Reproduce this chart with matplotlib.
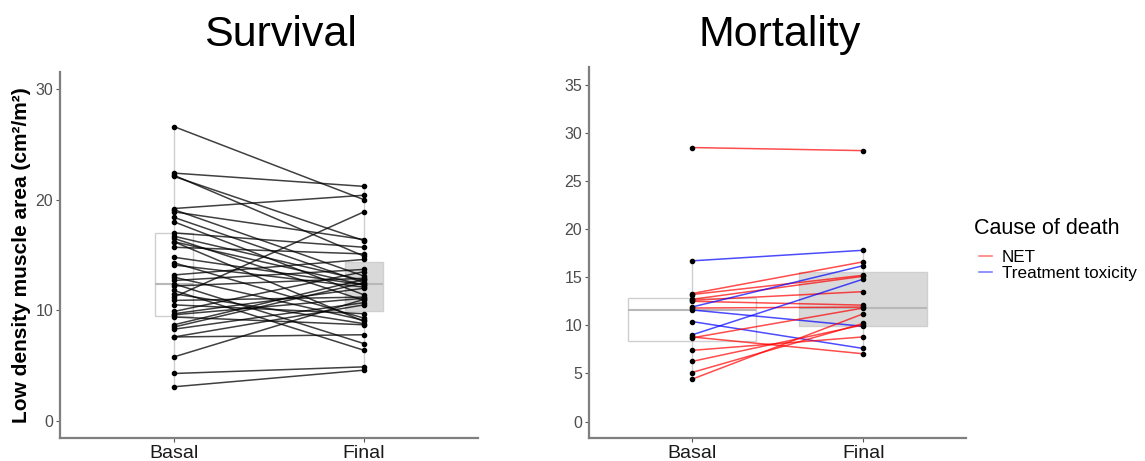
import matplotlib
matplotlib.use("Agg")
import matplotlib.pyplot as plt
from matplotlib.lines import Line2D

plt.rcParams["font.family"] = ["Liberation Sans", "DejaVu Sans"]

# ---- data ----
time_labels = ["Basal", "Final"]

# Survival group: one pair per patient (basal -> final)
surv_basal = [26.6, 22.4, 22.2, 22.1, 19.2, 19.1, 18.9, 18.4, 18.0, 17.0,
              16.7, 16.5, 16.2, 15.7, 14.8, 14.3, 14.1, 13.2, 12.7, 12.4,
              12.2, 11.8, 11.5, 11.2, 10.9, 10.5, 9.9, 9.7, 9.6, 9.4,
              8.7, 8.5, 8.3, 7.6, 7.6, 5.8, 4.3, 3.1, 13.0, 16.2]
surv_final = [20.0, 21.2, 14.9, 16.3, 20.4, 13.1, 16.4, 12.5, 11.4, 15.7,
              12.7, 10.9, 9.0, 15.1, 12.3, 9.3, 12.1, 14.6, 13.7, 7.0,
              12.9, 6.4, 8.8, 18.9, 11.2, 9.7, 13.5, 12.0, 11.1, 8.7,
              12.8, 12.5, 10.7, 7.8, 10.5, 11.0, 4.9, 4.6, 9.1, 12.3]

# Mortality group
mort_basal = [28.47, 16.7, 13.3, 13.2, 12.7, 12.6, 12.5, 11.9, 11.8, 11.6,
              10.4, 9.0, 8.8, 8.7, 7.4, 6.25, 5.1, 4.4]
mort_final = [28.15, 17.8, 16.6, 15.2, 15.1, 13.5, 12.1, 16.2, 11.9, 9.9,
              7.6, 14.8, 7.05, 11.8, 8.8, 10.05, 10.2, 11.2]
mort_cause = ["NET", "Treatment toxicity", "NET", "NET", "NET", "NET", "NET",
              "Treatment toxicity", "NET", "Treatment toxicity",
              "Treatment toxicity", "Treatment toxicity", "NET", "NET", "NET",
              "NET", "NET", "NET"]

# box summaries (q1, median, q3, whisker low, whisker high)
surv_box = {"Basal": (9.5, 12.4, 17.0, 3.1, 26.6),
            "Final": (9.9, 12.4, 14.4, 4.6, 21.2)}
mort_box = {"Basal": (8.4, 11.6, 12.8, 4.4, 16.7),
            "Final": (9.9, 11.8, 15.5, 7.05, 17.8)}

cause_colors = {"NET": "#ff0000", "Treatment toxicity": "#0000ff"}


def box_stats(summary):
    stats = []
    for lab in time_labels:
        q1, med, q3, lo, hi = summary[lab]
        stats.append(dict(q1=q1, med=med, q3=q3, whislo=lo, whishi=hi,
                          fliers=[], label=lab))
    return stats


def draw_boxes(ax, summary, width):
    bp = ax.bxp(box_stats(summary), positions=[1, 2], widths=width,
                showcaps=False, showfliers=False, patch_artist=True,
                manage_ticks=False, zorder=1,
                whiskerprops=dict(color="#cfcfcf", lw=1.0),
                medianprops=dict(color="#b8b8b8", lw=1.5),
                boxprops=dict(edgecolor="#cfcfcf", lw=1.0))
    bp["boxes"][0].set_facecolor("white")
    bp["boxes"][1].set_facecolor("#d9d9d9")


def style_axis(ax, ylim, yticks):
    ax.set_xlim(0.4, 2.6)
    ax.set_ylim(*ylim)
    ax.set_yticks(yticks)
    ax.set_xticks([1, 2])
    ax.set_xticklabels(time_labels, fontsize=14, color="#1a1a1a")
    ax.tick_params(axis="y", labelsize=11.5, labelcolor="#4d4d4d",
                   length=3, color="#555555", pad=2)
    ax.tick_params(axis="x", length=3, color="#555555", pad=2)
    for side in ["top", "right"]:
        ax.spines[side].set_visible(False)
    for side in ["left", "bottom"]:
        ax.spines[side].set_color("#7f7f7f")
        ax.spines[side].set_linewidth(1.6)


fig = plt.figure(figsize=(11.45, 4.61), dpi=100)

# ---- Survival ----
ax1 = fig.add_axes([0.0524, 0.0505, 0.365, 0.7926])
draw_boxes(ax1, surv_box, 0.2)
for b, f in zip(surv_basal, surv_final):
    ax1.plot([1, 2], [b, f], color="black", alpha=0.75, lw=1.1, zorder=2)
ax1.plot([1] * len(surv_basal), surv_basal, "o", color="black", ms=3, zorder=3)
ax1.plot([2] * len(surv_final), surv_final, "o", color="black", ms=3, zorder=3)
style_axis(ax1, (-1.5, 31.5), [0, 10, 20, 30])
ax1.set_ylabel("Low density muscle area (cm²/m²)", fontsize=15,
               fontweight="bold", labelpad=3)

# ---- Mortality ----
ax2 = fig.add_axes([0.5144, 0.0499, 0.3293, 0.804])
draw_boxes(ax2, mort_box, 0.75)
for b, f, c in zip(mort_basal, mort_final, mort_cause):
    ax2.plot([1, 2], [b, f], color=cause_colors[c], alpha=0.7, lw=1.1, zorder=2)
ax2.plot([1] * len(mort_basal), mort_basal, "o", color="black", ms=3, zorder=3)
ax2.plot([2] * len(mort_final), mort_final, "o", color="black", ms=3, zorder=3)
style_axis(ax2, (-1.7, 36.8), [0, 5, 10, 15, 20, 25, 30, 35])

fig.text(0.245, 0.9, "Survival", fontsize=31, ha="center", va="baseline")
fig.text(0.681, 0.9, "Mortality", fontsize=31, ha="center", va="baseline")

# legend: title placed as its own text so the gap to the keys matches
fig.text(0.851, 0.505, "Cause of death", fontsize=15.5, ha="left",
         va="center")
handles = [Line2D([0], [0], color=cause_colors[k], alpha=0.5, lw=1.2)
           for k in cause_colors]
fig.legend(handles, list(cause_colors), loc="upper left",
           bbox_to_anchor=(0.852, 0.465), frameon=False, fontsize=12.3,
           handlelength=0.75, handletextpad=0.6, labelspacing=0.05,
           borderaxespad=0.0, borderpad=0.2)

fig.savefig("out.png", dpi=100)
